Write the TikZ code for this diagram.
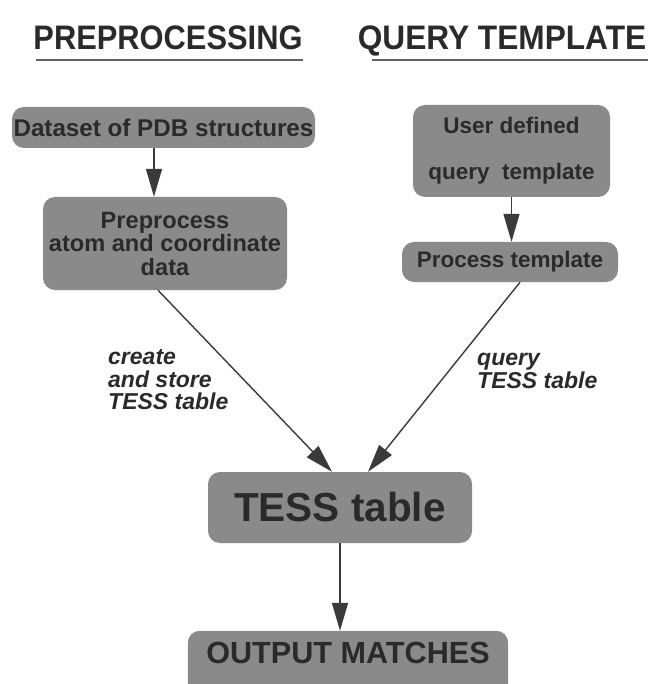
\documentclass[tikz,border=0pt]{standalone}
\usepackage{fontspec}
\setmainfont{Liberation Sans}
\usetikzlibrary{arrows.meta,backgrounds,calc}
\definecolor{boxfill}{HTML}{8A8A8A}
\definecolor{boxtext}{HTML}{2A2A2A}
\definecolor{linecol}{HTML}{3A3A3A}
\tikzset{
  stagebox/.style={fill=boxfill, rounded corners=12pt, inner sep=0pt,
    text=boxtext, font=\bfseries\fontsize{23.6}{23.5}\selectfont, align=center},
  flowarrow/.style={draw=linecol, line width=1.4pt,
    -{Triangle[length=28pt,width=16pt]}},
  edgelabel/.style={font=\bfseries\itshape\fontsize{23}{22.5}\selectfont,
    text=boxtext, align=left, inner sep=0pt, anchor=west},
  heading/.style={font=\bfseries\fontsize{34}{34}\selectfont, text=boxtext,
    inner sep=0pt, anchor=base},
  rule/.style={draw=linecol!80, line width=2pt}
}
\begin{document}
\begin{tikzpicture}[x=1pt,y=-1pt]
\useasboundingbox (0,0) rectangle (649,684);

% column headings
\node[heading] (h1) at (168,50) {\scalebox{0.907}[1]{PREPROCESSING}};
\node[heading] (h2) at (502,50) {\scalebox{0.931}[1]{QUERY TEMPLATE}};
\coordinate (u1a) at (36,60);  \coordinate (u1b) at (303,60);
\coordinate (u2a) at (372,60); \coordinate (u2b) at (648,60);
\draw[rule] (u1a) -- (u1b);
\draw[rule] (u2a) -- (u2b);

% left column
\node[stagebox, minimum width=303pt, minimum height=41pt,
      font=\bfseries\fontsize{24.2}{24}\selectfont] (ds) at (163.5,127.5)
  {Dataset of PDB structures};
\node[stagebox, minimum width=244pt, minimum height=93pt] (pp) at (165,243.5)
  {Preprocess\\atom and coordinate\\data};

% right column
\node[stagebox, minimum width=197pt, minimum height=92pt,
      font=\bfseries\fontsize{22.5}{46}\selectfont] (ud) at (511.5,151)
  {User defined\\query~~template};
\node[stagebox, minimum width=216pt, minimum height=40pt,
      font=\bfseries\fontsize{22.5}{22}\selectfont] (pt) at (510,262)
  {Process template};

% central table and result
\node[stagebox, minimum width=264pt, minimum height=71pt,
      font=\bfseries\fontsize{40.5}{40}\selectfont] (tess) at (340,507.5)
  {TESS table};
\node[stagebox, fill=none, minimum width=320pt, minimum height=44pt,
      font=\bfseries\fontsize{30.6}{30}\selectfont] (out) at (348,653)
  {OUTPUT MATCHES};
\begin{scope}[on background layer]
  \fill[boxfill, rounded corners=12pt] (out.north west) rectangle ($(out.south east)+(0,30)$);
\end{scope}

% connectors
\coordinate (dsx) at (154,0);
\draw[flowarrow] (ds.south -| dsx) -- (pp.north -| dsx);
\draw[flowarrow] (ud.south) -- (ud.south |- pt.north);
\draw[flowarrow] ([xshift=-7pt]pp.south) -- ([xshift=-8pt]tess.north);
\draw[flowarrow] ([xshift=10pt]pt.south) -- ([xshift=28pt]tess.north);
\draw[flowarrow] (tess.south) -- (tess.south |- out.north);

% connector labels
\node[edgelabel] (lc) at (108,380) {create\\and store\\TESS table};
\node[edgelabel] (lq) at (477,371) {query\\TESS table};
\end{tikzpicture}
\end{document}
